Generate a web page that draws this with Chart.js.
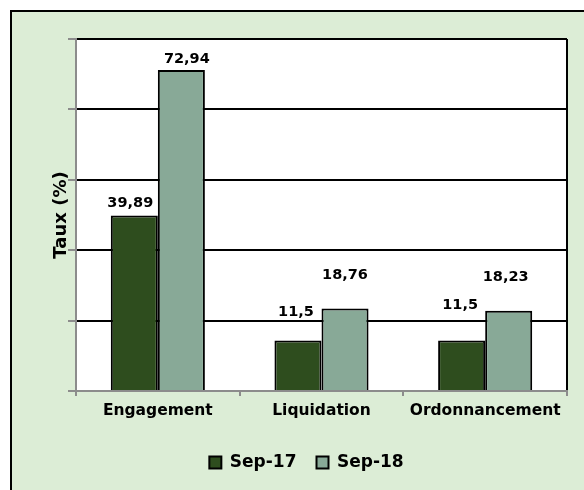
<!DOCTYPE html>
<html><head><meta charset="utf-8">
<script src="https://cdn.jsdelivr.net/npm/chart.js@4/dist/chart.umd.min.js"></script>
<style>html,body{margin:0;padding:0;background:#fff;}#wrap{width:584px;height:490px;position:relative;}</style>
</head><body><div id="wrap"><canvas id="c" width="584" height="490"></canvas></div>
<script>
const categories = ['Engagement', 'Liquidation', 'Ordonnancement'];
const seriesNames = ['Sep-17', 'Sep-18'];
const sep17 = [39.89, 11.5, 11.5];
const sep18 = [72.94, 18.76, 18.23];
const yMin = 0, yMax = 80, yStep = 16;

// label placement tweaks (pixels), as positioned in the original
const labelDx = [[-4, -2, -1.5], [5.5, 0, -3]];
const labelGap = [[8, 24, 31], [7, 29, 30]];

const FONT = "'DejaVu Sans', sans-serif";
const fmt = v => String(v).replace('.', ',');

const frame = {
  id: 'frame',
  beforeDraw(chart) {
    const ctx = chart.ctx;
    ctx.save();
    ctx.fillStyle = '#ffffff';
    ctx.fillRect(0, 0, chart.width, chart.height);
    ctx.fillStyle = '#dcedd6';
    ctx.fillRect(10, 10, chart.width, chart.height);
    ctx.strokeStyle = '#000';
    ctx.lineWidth = 2;
    ctx.beginPath();
    ctx.moveTo(11, chart.height + 5);
    ctx.lineTo(11, 11);
    ctx.lineTo(chart.width + 5, 11);
    ctx.stroke();
    const a = chart.chartArea;
    ctx.fillStyle = '#ffffff';
    ctx.fillRect(a.left, a.top, a.right - a.left, a.bottom - a.top);
    ctx.restore();
  }
};

const valueLabels = {
  id: 'valueLabels',
  afterDatasetsDraw(chart) {
    const ctx = chart.ctx;
    ctx.save();
    ctx.font = "bold 14.5px " + FONT;
    ctx.fillStyle = '#000';
    ctx.textAlign = 'center';
    ctx.textBaseline = 'alphabetic';
    chart.data.datasets.forEach((ds, i) => {
      chart.getDatasetMeta(i).data.forEach((bar, j) => {
        ctx.fillText(fmt(ds.data[j]), bar.x + labelDx[i][j], bar.y - labelGap[i][j]);
      });
    });
    ctx.restore();
  }
};

new Chart(document.getElementById('c'), {
  type: 'bar',
  data: {
    labels: categories,
    datasets: [
      { label: seriesNames[0], data: sep17, backgroundColor: '#2e4d1e', borderColor: '#000', borderWidth: 2 },
      { label: seriesNames[1], data: sep18, backgroundColor: '#88a997', borderColor: '#000', borderWidth: 2 }
    ]
  },
  options: {
    responsive: false,
    animation: false,
    devicePixelRatio: 1,
    layout: { padding: { left: 46, right: 17, top: 39, bottom: 9 } },
    datasets: { bar: { categoryPercentage: 0.575, barPercentage: 1.0 } },
    plugins: {
      legend: {
        position: 'bottom',
        labels: {
          boxWidth: 12, boxHeight: 12, padding: 20, color: '#000',
          font: { family: FONT, size: 17, weight: 'bold' }
        }
      },
      tooltip: { enabled: false }
    },
    scales: {
      x: {
        grid: {
          offset: true,
          color: c => (c.tick ? 'rgba(0,0,0,0)' : '#000'),
          lineWidth: 2,
          tickColor: '#8c8c8c',
          tickLength: 5,
          drawTicks: true
        },
        border: { color: '#8c8c8c', width: 2 },
        ticks: { color: '#000', font: { family: FONT, size: 15.5, weight: 'bold' }, padding: 6, maxRotation: 0 },
        afterFit: s => { s.height = 43; }
      },
      y: {
        min: yMin, max: yMax,
        ticks: { stepSize: yStep, display: false },
        grid: {
          color: c => (c.tick && c.tick.value === 0 ? 'rgba(0,0,0,0)' : '#000'),
          lineWidth: 2,
          tickColor: '#8c8c8c',
          tickLength: 8,
          drawTicks: true
        },
        border: { color: '#8c8c8c', width: 2 },
        title: { display: true, text: 'Taux (%)', color: '#000', font: { family: FONT, size: 18, weight: 'bold' }, padding: { top: 5, bottom: 0 } },
        afterFit: s => { s.width = 30; }
      }
    }
  },
  plugins: [frame, valueLabels]
});
</script></body></html>
